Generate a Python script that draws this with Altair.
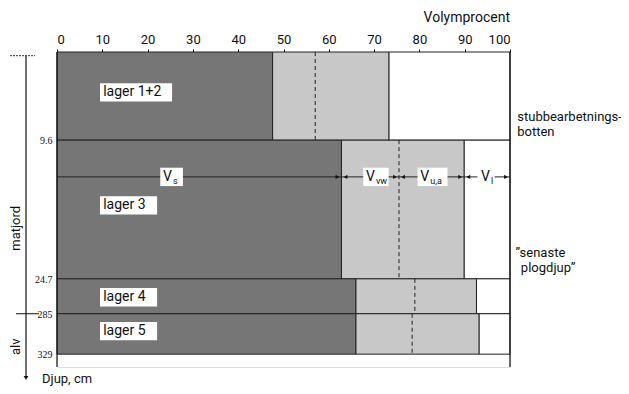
import altair as alt
import pandas as pd

# ---- data ----
layer_names = ["lager 1+2", "lager 3", "lager 4", "lager 5"]
layer_top = [0.0, 9.6, 24.7, 28.5]
layer_bottom = [9.6, 24.7, 28.5, 32.9]
vs_end = [47.6, 62.8, 66.0, 66.0]        # solid volume V_s (cumulative %)
vw_end = [57.0, 75.5, 79.0, 78.4]        # dashed boundary V_vw / V_u,a
pore_end = [73.3, 89.9, 92.6, 93.2]      # start of air V_l
depth_ticks = [9.6, 24.7, 28.5, 32.9]
depth_tick_labels = ["9.6", "24.7", "285", "329"]
x_ticks = [0, 10, 20, 30, 40, 50, 60, 70, 80, 90, 100]

FONT = "Roboto, Liberation Sans, sans-serif"
Y_MAX = 34.3

seg_rows = []
for i in range(len(layer_names)):
    seg_rows.append(dict(x0=0, x1=vs_end[i], top=layer_top[i], bottom=layer_bottom[i], kind="Vs"))
    seg_rows.append(dict(x0=vs_end[i], x1=pore_end[i], top=layer_top[i], bottom=layer_bottom[i], kind="Vw"))
    seg_rows.append(dict(x0=pore_end[i], x1=100, top=layer_top[i], bottom=layer_bottom[i], kind="Vl"))
seg = pd.DataFrame(seg_rows)
layers = pd.DataFrame(dict(name=layer_names, top=layer_top, bottom=layer_bottom,
                           vs=vs_end, vw=vw_end, pe=pore_end))

xs = alt.Scale(domain=[0, 100], nice=False)
ys = alt.Scale(domain=[0, Y_MAX], reverse=True, nice=False, zero=False)
xaxis = alt.Axis(orient="top", values=x_ticks, title=None, grid=False, domainColor="#111",
                 tickColor="#111", tickSize=3, labelFont=FONT, labelFontSize=13,
                 labelColor="#111", labelPadding=3, domainWidth=1.2)

rects = alt.Chart(seg).mark_rect(stroke="#222", strokeWidth=1).encode(
    x=alt.X("x0:Q", scale=xs, axis=xaxis),
    x2="x1:Q",
    y=alt.Y("top:Q", scale=ys, axis=None),
    y2="bottom:Q",
    fill=alt.Fill("kind:N", scale=alt.Scale(domain=["Vs", "Vw", "Vl"],
                                            range=["#767676", "#c8c8c8", "#ffffff"]), legend=None),
)

dashed = alt.Chart(layers).mark_rule(strokeDash=[4, 3], color="#222", strokeWidth=1).encode(
    x=alt.X("vw:Q", scale=xs), y=alt.Y("top:Q", scale=ys), y2="bottom:Q")

borders = alt.Chart(pd.DataFrame(dict(x=[0, 100], a=[0, 0], b=[Y_MAX, Y_MAX]))).mark_rule(
    color="#111", strokeWidth=1.2).encode(x=alt.X("x:Q", scale=xs), y=alt.Y("a:Q", scale=ys), y2="b:Q")

# layer labels with white boxes
lab = pd.DataFrame(dict(name=layer_names, yc=[4.4, 16.7, 26.7, 30.4],
                        x0=[9.5] * 4, x1=[25.4, 22.1, 22.1, 22.1]))
lab["y0"] = lab["yc"] - 1.0
lab["y1"] = lab["yc"] + 1.0
lab["tx"] = 10.2
lab_box = alt.Chart(lab).mark_rect(fill="white").encode(
    x=alt.X("x0:Q", scale=xs), x2="x1:Q", y=alt.Y("y0:Q", scale=ys), y2="y1:Q")
lab_txt = alt.Chart(lab).mark_text(align="left", baseline="middle", font=FONT, fontSize=14,
                                   color="#111").encode(
    x=alt.X("tx:Q", scale=xs), y=alt.Y("yc:Q", scale=ys), text="name:N")

# arrow row with V labels
ROW = 13.6
row_rule = alt.Chart(pd.DataFrame(dict(a=[0], b=[100], y=[ROW]))).mark_rule(
    color="#222", strokeWidth=1).encode(x=alt.X("a:Q", scale=xs), x2="b:Q", y=alt.Y("y:Q", scale=ys))
bounds = [62.8, 75.5, 89.9, 100]
tri_r = pd.DataFrame(dict(x=[b - 0.9 for b in bounds], y=[ROW] * 4))
tri_l = pd.DataFrame(dict(x=[b + 0.9 for b in bounds[:-1]], y=[ROW] * 3))
arr_r = alt.Chart(tri_r).mark_point(shape="triangle-right", filled=True, size=18, color="#111",
                                    opacity=1).encode(x=alt.X("x:Q", scale=xs), y=alt.Y("y:Q", scale=ys))
arr_l = alt.Chart(tri_l).mark_point(shape="triangle-left", filled=True, size=18, color="#111",
                                    opacity=1).encode(x=alt.X("x:Q", scale=xs), y=alt.Y("y:Q", scale=ys))
vlab = pd.DataFrame(dict(main=["V", "V", "V", "V"], sub=["s", "vw", "u,a", "l"],
                         bx0=[22.8, 67.6, 79.6, 92.8], bx1=[27.8, 73.2, 86.2, 96.6],
                         vx=[23.4, 68.2, 80.2, 93.6], sx=[25.6, 70.4, 82.4, 95.8]))
vlab["y0"] = ROW - 1.0
vlab["y1"] = ROW + 1.0
vlab["y"] = ROW
v_box = alt.Chart(vlab).mark_rect(fill="white").encode(
    x=alt.X("bx0:Q", scale=xs), x2="bx1:Q", y=alt.Y("y0:Q", scale=ys), y2="y1:Q")
v_main = alt.Chart(vlab).mark_text(align="left", baseline="middle", font=FONT, fontSize=14,
                                   color="#111").encode(
    x=alt.X("vx:Q", scale=xs), y=alt.Y("y:Q", scale=ys), text="main:N")
v_sub = alt.Chart(vlab).mark_text(align="left", baseline="middle", font=FONT, fontSize=9, dy=4,
                                  color="#111").encode(
    x=alt.X("sx:Q", scale=xs), y=alt.Y("y:Q", scale=ys), text="sub:N")

# depth labels
dl = pd.DataFrame(dict(d=depth_ticks, t=depth_tick_labels, x=[-1.0] * 4))
depth_txt = alt.Chart(dl).mark_text(align="right", baseline="middle", font="Liberation Serif",
                                    fontSize=10, dy=1, color="#111").encode(
    x=alt.X("x:Q", scale=xs), y=alt.Y("d:Q", scale=ys), text="t:N")

# left depth arrow
dline = alt.Chart(pd.DataFrame(dict(a=[0.4], b=[35.4]))).mark_rule(color="#111", strokeWidth=1.2).encode(
    x=alt.value(-31), y=alt.Y("a:Q", scale=ys), y2="b:Q")
darrow = alt.Chart(pd.DataFrame(dict(a=[35.5]))).mark_point(
    shape="triangle-down", filled=True, size=22, color="#111", opacity=1).encode(
    x=alt.value(-31), y=alt.Y("a:Q", scale=ys))
topdash = alt.Chart(pd.DataFrame(dict(a=[0.4]))).mark_rule(color="#333", strokeDash=[2, 1]).encode(
    x=alt.value(-47), x2=alt.value(-22), y=alt.Y("a:Q", scale=ys))
crosstick = alt.Chart(pd.DataFrame(dict(a=[28.5]))).mark_rule(color="#111").encode(
    x=alt.value(-41), x2=alt.value(-18), y=alt.Y("a:Q", scale=ys))
side = pd.DataFrame(dict(t=["matjord", "alv"], d=[19.2, 32.1]))
side_txt = alt.Chart(side).mark_text(angle=270, align="center", baseline="middle", font=FONT,
                                     fontSize=13, color="#111").encode(
    x=alt.value(-41), y=alt.Y("d:Q", scale=ys), text="t:N")
djup = alt.Chart(pd.DataFrame(dict(t=["Djup, cm"], d=[36.4]))).mark_text(
    align="left", baseline="bottom", font=FONT, fontSize=13, color="#111").encode(
    x=alt.value(-15), y=alt.Y("d:Q", scale=ys), text="t:N")

title_txt = alt.Chart(pd.DataFrame(dict(t=["Volymprocent"], x=[100]))).mark_text(
    align="right", baseline="middle", font=FONT, fontSize=14, color="#111").encode(
    x=alt.X("x:Q", scale=xs), y=alt.value(-34), text="t:N")

right = pd.DataFrame(dict(t=["stubbearbetnings-", "botten", "\u201Dsenaste", "plogdjup\u201D"],
                          x=[101.6, 101.6, 101.2, 102.4], d=[7.1, 8.7, 21.9, 23.5]))
right_txt = alt.Chart(right).mark_text(align="left", baseline="middle", font=FONT, fontSize=13,
                                       color="#111").encode(
    x=alt.X("x:Q", scale=xs), y=alt.Y("d:Q", scale=ys), text="t:N")

chart = alt.layer(
    rects, dashed, borders, lab_box, lab_txt, row_rule, v_box, arr_r, arr_l, v_main, v_sub,
    depth_txt, dline, darrow, topdash, crosstick, side_txt, djup, title_txt, right_txt,
).properties(
    width=453, height=315,
    autosize=alt.AutoSizeParams(type="none"),
    padding={"left": 49, "top": 44, "right": 111, "bottom": 19},
).configure_view(stroke=None).configure(background="white")

chart.save("out.html", embed_options={"renderer": "svg", "actions": False})
